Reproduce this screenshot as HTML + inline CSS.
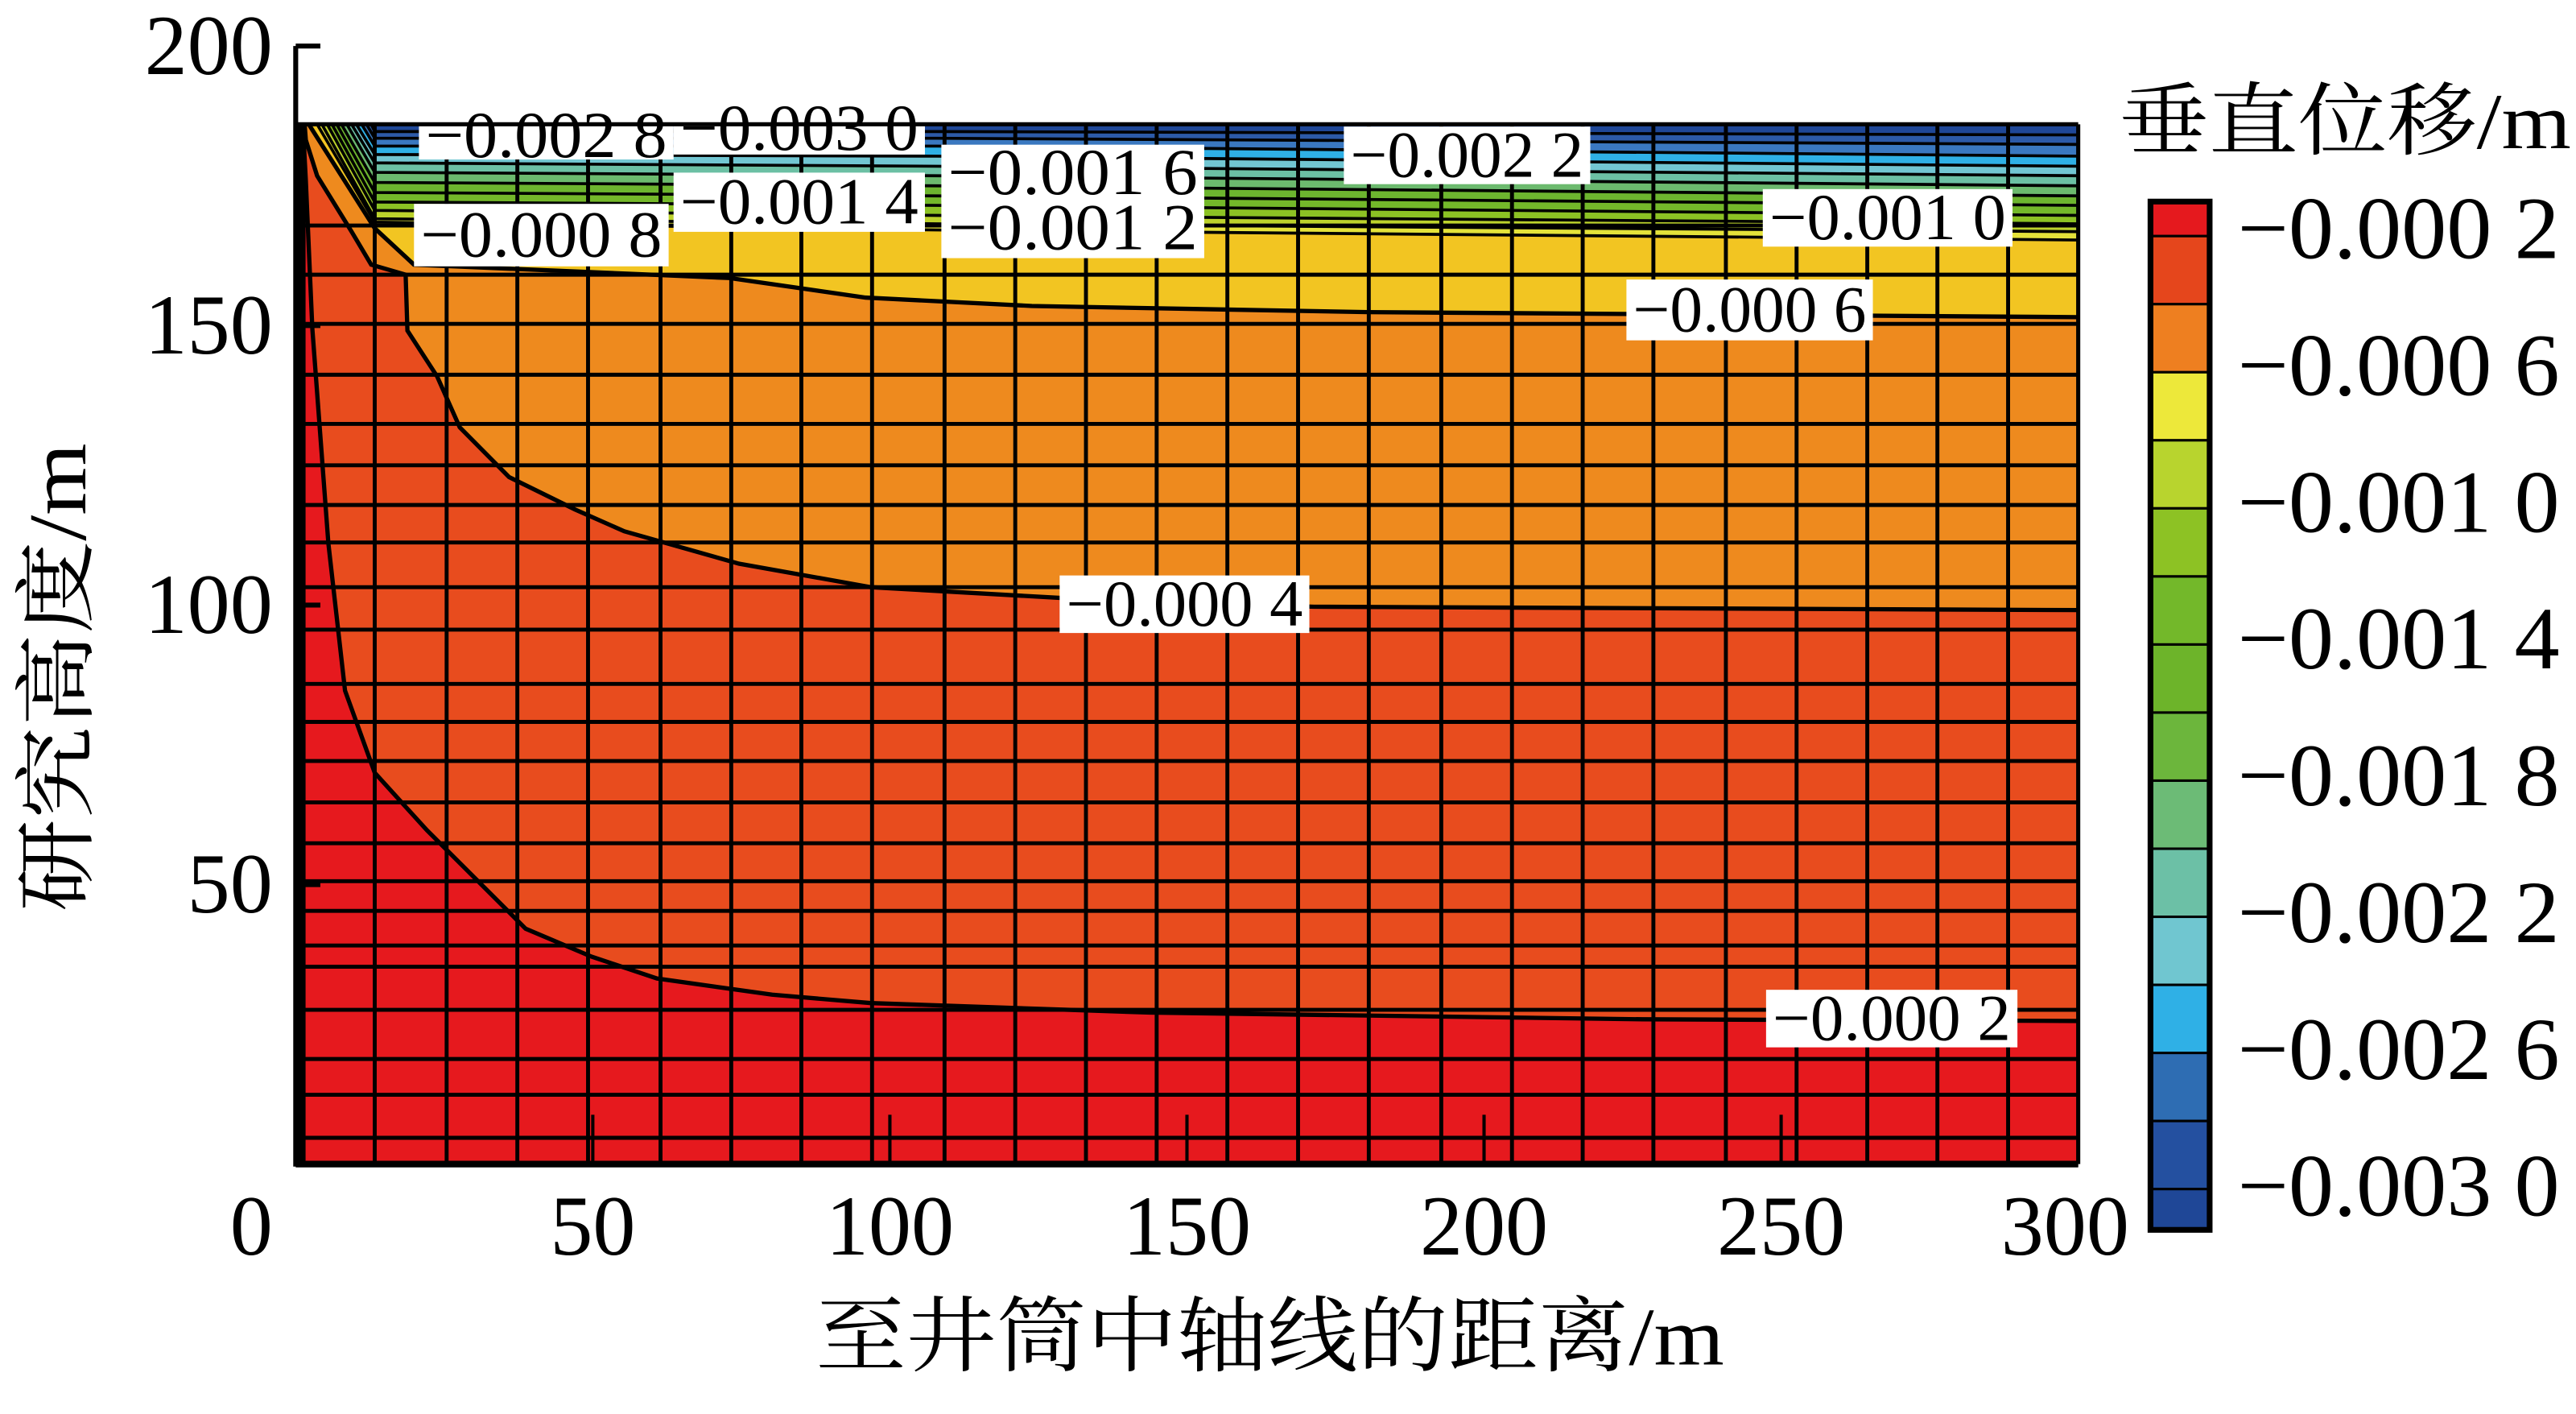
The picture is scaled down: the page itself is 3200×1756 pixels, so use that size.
<!DOCTYPE html>
<html><head><meta charset="utf-8">
<style>
html,body{margin:0;padding:0;background:#fff;}
svg{display:block;}
text{font-family:"Liberation Serif","Noto Serif CJK SC",serif;fill:#000;}
.cjk{font-family:"Liberation Serif","Noto Serif CJK SC","Noto Sans CJK SC",serif;}
</style></head>
<body>
<svg id="chart" width="3200" height="1756" viewBox="0 0 1568 860" preserveAspectRatio="none" xmlns="http://www.w3.org/2000/svg">
<defs><clipPath id="plotclip"><rect x="181" y="75.6" width="1084" height="633"/></clipPath></defs>
<g id="fills" clip-path="url(#plotclip)"></g>
<g id="mesh" clip-path="url(#plotclip)"></g>
<g id="lines" clip-path="url(#plotclip)"></g>
<g id="labels"></g>
<g id="axes"></g>
<g id="cbar"></g>
</svg>
<script>
// ---- data ----
const xTicks = [0, 50, 100, 150, 200, 250, 300];
const yTicks = [50, 100, 150, 200];
const levels = [-0.0002,-0.0004,-0.0006,-0.0008,-0.0010,-0.0012,-0.0014,-0.0016,-0.0018,-0.0020,-0.0022,-0.0024,-0.0026,-0.0028,-0.0030];
const bandColors = ["#e84c1e","#ee8a1e","#f2c522","#e4e23a","#bcd22c","#8cc224","#74b82a","#6db52f","#6cba6e","#6cc0a4","#72c6d2","#2fb0e6","#3a78c0","#2c5aa8","#1f4797"];
const baseColor = "#e6191e";
const c02 = [[1.2,186],[1.7,176],[2.8,149.4],[5.5,111],[8.3,84.7],[13.3,70],[22.1,59.7],[38.7,42.1],[49.8,37.1],[60.8,33.2],[80.2,30.3],[96.8,28.8],[143.8,27.1],[226.7,25.9],[300,25.6]];
const c04 = [[1.5,186],[1.7,183.2],[3.6,176.8],[9.4,166.8],[12.7,160.9],[18.5,159.1],[18.8,149.1],[23.8,140.9],[27.6,131.8],[35.9,122.9],[47,117.1],[55.3,113.2],[74.6,107.4],[96.8,103.2],[130,101.2],[171.4,99.7],[300,99.1]];
const c06 = [[2.2,186],[13.3,167.4],[19.9,160.9],[73,158.5],[95.9,155],[123.9,153.5],[180.5,152.4],[300,151.5]];
const c08 = [[3.6,186],[13.3,168.5],[107.8,167.1],[300,165.3]];
const c10 = [[4.4,186],[13.3,169.1],[107.8,168.2],[300,166.8]];
const c12 = [[5.3,186],[13.3,170.6],[107.8,169.7],[300,168.2]];
const c14 = [[6.1,186],[13.3,172.1],[107.8,171.5],[300,169.7]];
const c16 = [[6.9,186],[13.3,173.8],[107.8,173.2],[300,171.5]];
const c18 = [[7.7,186],[13.3,175.6],[107.8,175],[300,173.2]];
const c20 = [[8.6,186],[13.3,177.4],[107.8,176.8],[300,175]];
const c22 = [[9.4,186],[13.3,179.1],[107.8,178.5],[300,176.8]];
const c24 = [[10.2,186],[13.3,180.6],[107.8,180.3],[300,178.5]];
const c26 = [[11.1,186],[13.3,182.1],[107.8,182.1],[300,180.3]];
const c28 = [[11.9,186],[13.3,183.5],[107.8,183.5],[300,182.4]];
const c30 = [[12.7,186],[13.3,184.7],[107.8,184.7],[300,184.1]];
const curves = [c02,c04,c06,c08,c10,c12,c14,c16,c18,c20,c22,c24,c26,c28,c30];
const meshX = [13.3,25.4,37.3,49.2,61.4,73.3,85.1,97,109.2,121.1,133,144.9,156.8,168.7,180.6,192.8,204.7,216.6,228.5,240.7,252.6,264.5,276.3,288.2];
const meshY = [4.7,12.4,18.8,27.6,35.3,39.1,45.3,50.6,57.4,64.7,72.1,79.1,85.9,95.6,103.2,111.2,117.9,125,132.4,141.2,150.3,159.1,167.9];
const cbLabels = ["−0.000 2","−0.000 6","−0.001 0","−0.001 4","−0.001 8","−0.002 2","−0.002 6","−0.003 0"];
const cbColors = ["#e5191e","#e5461c","#ee7f20","#ede83a","#b8d42e","#8dc224","#73b82a","#6db42a","#6cb63c","#6cbb76","#6cc0a6","#70c6d0","#2fb0e6","#2e6db3","#2450a0","#1f4797"];

// ---- scales ----
const X0=180, X1=1265, Y0=708, YMAX=186;
const sx = v => X0 + v*(X1-X0)/300;
const sy = v => Y0 - v*3.4;
const NS="http://www.w3.org/2000/svg";
function mk(tag, parent, attrs){const e=document.createElementNS(NS,tag);for(const k in attrs)e.setAttribute(k,attrs[k]);parent.appendChild(e);return e;}
const fills=document.getElementById('fills'), mesh=document.getElementById('mesh'), lines=document.getElementById('lines'), labels=document.getElementById('labels'), axes=document.getElementById('axes'), cbar=document.getElementById('cbar');

let r=mk('rect',fills,{x:sx(0),y:sy(YMAX),width:sx(300)-sx(0),height:sy(0)-sy(YMAX),fill:baseColor});


curves.forEach((c,i)=>{
  const pts=c.map(p=>sx(p[0])+','+sy(p[1]));
  pts.push(sx(300)+','+sy(YMAX+2)); pts.push(sx(c[0][0])+','+sy(YMAX+2));
  const p=mk('polygon',fills,{points:pts.join(' '),fill:bandColors[i]});
  
  
});
meshX.forEach(v=>{
  const l=mk('line',mesh,{x1:sx(v),x2:sx(v),y1:sy(0),y2:sy(YMAX),stroke:'#000','stroke-width':2.4});
  
  
});
meshY.forEach(v=>{
  const l=mk('line',mesh,{x1:sx(0),x2:sx(300),y1:sy(v),y2:sy(v),stroke:'#000','stroke-width':2.4});
  
  
});
curves.forEach((c,i)=>{
  const p=mk('polyline',lines,{points:c.map(p=>sx(p[0])+','+sy(p[1])).join(' '),fill:'none',stroke:'#000','stroke-width':i<3?2.6:1.8});
  
  
});
// contour labels (white boxes)
const clab=[["−0.002 8",255,68,410,97],["−0.003 0",410,62,563,94],["−0.001 6",573,88,733,122],["−0.001 2",573,120,733,157],["−0.001 4",410,105,563,141],["−0.000 8",252,124,407,162],["−0.002 2",818,77,968,112],["−0.001 0",1073,115,1225,150],["−0.000 6",990,170,1140,207],["−0.000 4",645,350,797,385],["−0.000 2",1075,602,1228,637]];
clab.forEach(d=>{
  const b=mk('rect',labels,{x:d[1],y:d[2],width:d[3]-d[1],height:d[4]-d[2],fill:'#fff'});
  
  
});
clab.forEach(d=>{
  const t=mk('text',labels,{x:(d[1]+d[3])/2,y:(d[2]+d[4])/2+13,'text-anchor':'middle','font-size':40,textLength:d[3]-d[1]-8,lengthAdjust:'spacingAndGlyphs'});
  t.textContent=d[0];
  
  
});
// axes
let a=mk('path',axes,{d:`M${X0},28 L${X0},${Y0} L${X1},${Y0}`,fill:'none',stroke:'#000','stroke-width':3});


let lb=mk('line',axes,{x1:X0+3,x2:X0+3,y1:sy(YMAX),y2:Y0,stroke:'#000','stroke-width':6});


let tb=mk('line',axes,{x1:X0,x2:X1,y1:sy(YMAX),y2:sy(YMAX),stroke:'#000','stroke-width':2.5});


let rb=mk('line',axes,{x1:X1,x2:X1,y1:sy(YMAX),y2:Y0,stroke:'#000','stroke-width':2.5});


let bb=mk('line',axes,{x1:X0,x2:X1,y1:Y0,y2:Y0,stroke:'#000','stroke-width':4});


yTicks.forEach(v=>{
  const tk=mk('line',axes,{x1:X0,x2:X0+15,y1:sy(v),y2:sy(v),stroke:'#000','stroke-width':3});
  
  
  const s=String(v);
  const t=mk('text',axes,{x:166,y:sy(v)+17,'text-anchor':'end','font-size':52,textLength:26*s.length,lengthAdjust:'spacingAndGlyphs'});
  t.textContent=s;
  
  
});
xTicks.forEach(v=>{
  if(v>0&&v<300){const tk=mk('line',axes,{x1:sx(v),x2:sx(v),y1:Y0,y2:Y0-30,stroke:'#000','stroke-width':2});
  
  }
  const s=String(v);
  const cx = v===0?153:sx(v)+ (v===300?-8:0);
  const t=mk('text',axes,{x:cx,y:763,'text-anchor':'middle','font-size':52,textLength:26*s.length,lengthAdjust:'spacingAndGlyphs'});
  t.textContent=s;
  
  
});
let xt=mk('text',axes,{x:773,y:830,'text-anchor':'middle','font-size':50,textLength:553,lengthAdjust:'spacingAndGlyphs',class:'cjk'});
xt.textContent='至井筒中轴线的距离/m';


let yt=mk('text',axes,{x:0,y:0,'text-anchor':'middle','font-size':50,textLength:285,lengthAdjust:'spacingAndGlyphs',class:'cjk',transform:'translate(52,412) rotate(-90)'});
yt.textContent='研究高度/m';


// colorbar
const cbTop=122.6, cbBot=748, blk=41.4, cbX=1309, cbW=36;
cbColors.forEach((c,i)=>{
  const y0 = i===0?cbTop:cbTop+21+(i-1)*blk;
  const y1 = i===cbColors.length-1?cbBot:cbTop+21+i*blk;
  const rr=mk('rect',cbar,{x:cbX,y:y0,width:cbW,height:y1-y0,fill:c,stroke:'#000','stroke-width':1.5});
  
  
});
let fr=mk('rect',cbar,{x:cbX,y:cbTop,width:cbW,height:cbBot-cbTop,fill:'none',stroke:'#000','stroke-width':3.5});


cbLabels.forEach((s,i)=>{
  const t=mk('text',cbar,{x:1362,y:140+i*83.2+17,'font-size':54,textLength:196,lengthAdjust:'spacingAndGlyphs'});
  t.textContent=s;
  
  
});
let ct=mk('text',cbar,{x:1290,y:90,'font-size':48,textLength:275,lengthAdjust:'spacingAndGlyphs',class:'cjk'});
ct.textContent='垂直位移/m';


</script>
</body></html>
